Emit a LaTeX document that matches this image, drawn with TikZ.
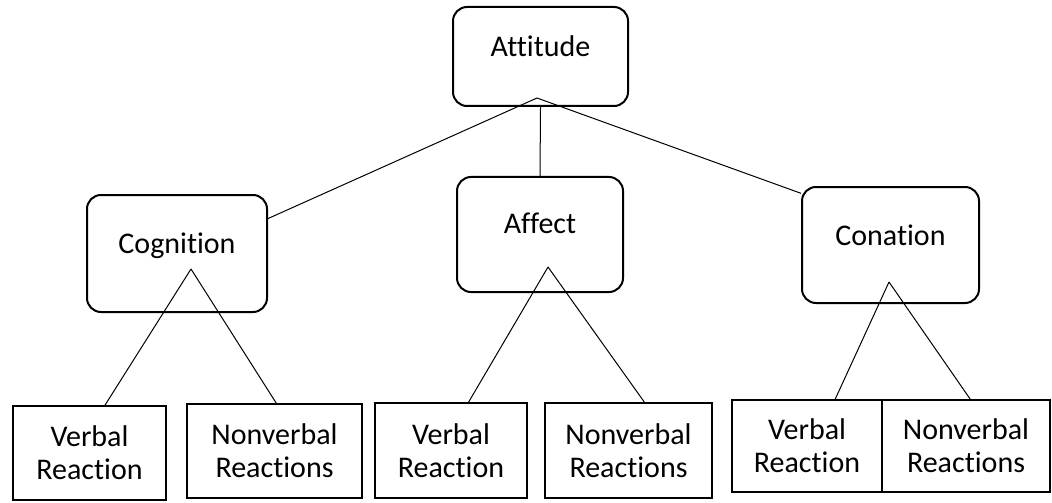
\documentclass[tikz,border=0pt]{standalone}
\usepackage{fontspec}
\setmainfont{Carlito}[Ligatures=NoCommon]
\usepackage{tikz}

\begin{document}
\begin{tikzpicture}[x=0.5pt, y=-0.5pt, line width=0.5pt,
        topbox/.style={draw, line width=1pt, rounded corners=7pt, inner sep=0pt,
            text height=9.5pt, text depth=9.5pt, font=\fontsize{15}{16.5}\selectfont},
        leafbox/.style={draw, line width=1pt, inner sep=0pt, align=center,
            font=\fontsize{15}{16.5}\selectfont}]
            \useasboundingbox (0,0) rectangle (1052,502);

            % 顶层 (Attitude)
            \node[topbox, minimum width=87.5pt, minimum height=49.5pt] (att) at (540.5,56.5) {Attitude};
            \coordinate (att-c) at (537,98);

            % 三个成分
            \node[topbox, minimum width=90pt, minimum height=58.5pt] (cog) at (177,253.5) {Cognition};
            \node[topbox, minimum width=83pt, minimum height=57.5pt, text depth=10.5pt] (aff) at (540,234.5) {Affect};
            \node[topbox, minimum width=88.5pt, minimum height=58pt] (con) at (890.5,245) {Conation};
            \coordinate (cog-c) at (191,269);
            \coordinate (aff-c) at (548,267);
            \coordinate (con-c) at (889,282);

            \draw (att-c) -- (cog.21);
            \draw (att.south) -- (aff.north);
            \draw (att-c) -- (con.150);

            % 反应
            \node[leafbox, minimum width=76.5pt, minimum height=47pt] (vr1) at (89.5,453) {Verbal\\Reaction};
            \node[leafbox, minimum width=87.5pt, minimum height=47pt] (nv1) at (274.5,451) {Nonverbal\\Reactions};
            \node[leafbox, minimum width=76pt, minimum height=47.5pt] (vr2) at (451,450.5) {Verbal\\Reaction};
            \node[leafbox, minimum width=83.5pt, minimum height=47.5pt] (nv2) at (628.5,450.5) {Nonverbal\\Reactions};
            \node[leafbox, minimum width=75pt, minimum height=46pt] (vr3) at (807,446) {Verbal\\Reaction};
            \node[leafbox, minimum width=84pt, minimum height=46pt] (nv3) at (966,446) {Nonverbal\\Reactions};

            \draw (cog-c) -- (vr1.72);
            \draw (cog-c) -- (nv1.88);
            \draw (aff-c) -- (vr2.70);
            \draw (aff-c) -- (nv2.72);
            \draw (con-c) -- (vr3.59);
            \draw (con-c) -- (nv3.85);
        \end{tikzpicture}
\end{document}
